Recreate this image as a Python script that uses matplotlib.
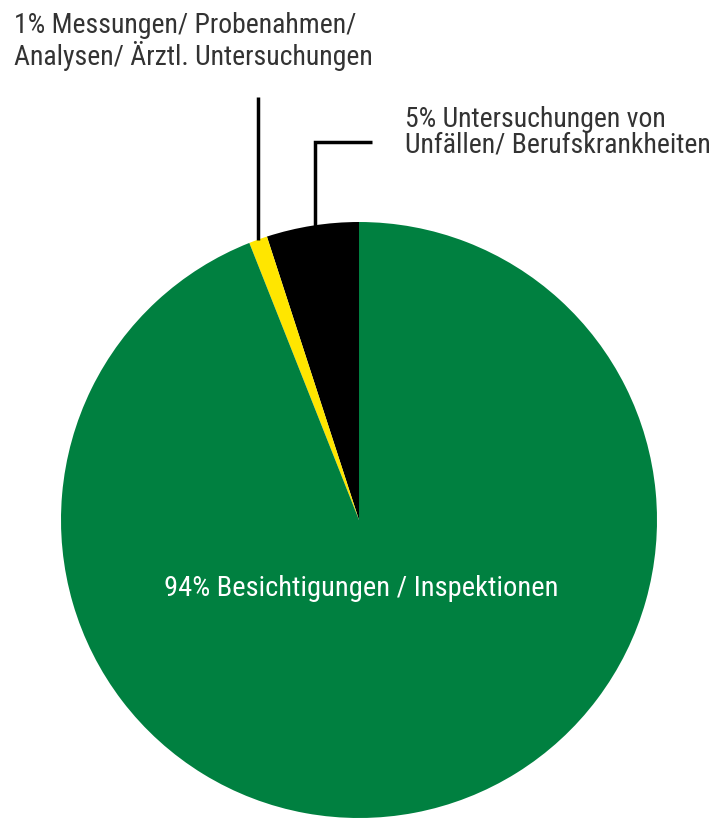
import matplotlib
matplotlib.use("Agg")
import matplotlib.pyplot as plt
from matplotlib import font_manager
import numpy as np

# data
labels = ["94% Besichtigungen / Inspektionen",
          "1% Messungen/ Probenahmen/\nAnalysen/ Ärztl. Untersuchungen",
          "5% Untersuchungen von\nUnfällen/ Berufskrankheiten"]
shares = [94, 1, 5]
colors = ["#008040", "#ffe600", "#000000"]

names = {f.name for f in font_manager.fontManager.ttflist}
font = "DejaVu Sans"
for cand in ["Liberation Sans Narrow", "Roboto Condensed", "Open Sans Condensed",
             "Arial Narrow", "Liberation Sans"]:
    if cand in names:
        font = cand
        break

W, H = 716, 818
fig = plt.figure(figsize=(W / 100, H / 100), dpi=100)
ax = fig.add_axes([0, 0, 1, 1])

cx, cy, r = 359, 298, 298
# counterclockwise from the top: black, yellow, green
order = [2, 1, 0]
wedges, _ = ax.pie([shares[i] for i in order], colors=[colors[i] for i in order],
                   startangle=90, counterclock=True, center=(cx, cy), radius=r,
                   frame=True, wedgeprops=dict(linewidth=0))
ax.set_xlim(0, W)
ax.set_ylim(0, H)
ax.set_aspect("equal")
ax.axis("off")

renderer = fig.canvas.get_renderer()


def fit_text(x, y, s, width, **kw):
    t = ax.text(x, y, s, family=font, fontsize=20, **kw)
    w = t.get_window_extent(renderer).width
    t.set_fontsize(20 * width / w)
    return t


def arc_point(w):
    a = np.deg2rad((w.theta1 + w.theta2) / 2)
    return cx + r * np.cos(a), cy + r * np.sin(a)


# 1% leader: straight up
x1, y1 = arc_point(wedges[1])
ax.plot([x1, x1], [y1, H - 97], color="black", lw=2.5, solid_capstyle="butt")
fit_text(14, H - 12, labels[1], 358, ha="left", va="top",
         color="#333333", linespacing=1.08)

# 5% leader: up then right
x5, y5 = arc_point(wedges[0])
ax.plot([x5 + 3, x5 + 3, x5 + 60], [y5, H - 142, H - 142], color="black", lw=2.5,
        solid_joinstyle="miter", solid_capstyle="butt")
fit_text(405, H - 106, labels[2], 305, ha="left", va="top",
         color="#333333", linespacing=0.95)

# 94% label inside the green slice
fit_text(cx + 2, H - 588, labels[0], 393, ha="center", va="center",
         color="white")

fig.savefig("out.png", dpi=100)
